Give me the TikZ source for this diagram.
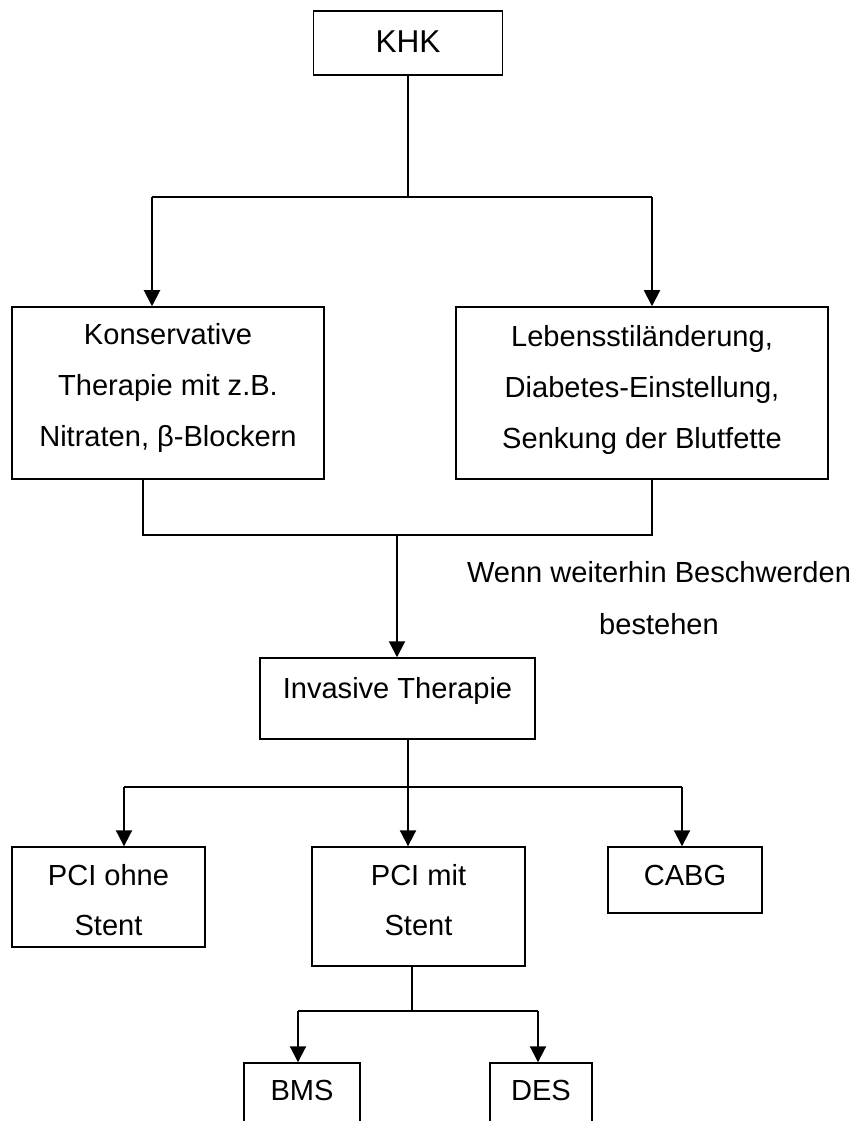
\documentclass[tikz,border=0pt]{standalone}
\usepackage{fontspec}
\setmainfont{Liberation Sans}
\usetikzlibrary{arrows.meta}
\tikzset{
  box/.style={draw=black, line width=1.1pt, rectangle, inner sep=0pt, align=center, anchor=base},
  conn/.style={draw=black, line width=1pt},
  arr/.style={draw=black, line width=1.5pt, -{Triangle[length=12pt,width=12pt]}},
  lbl/.style={align=center, anchor=base, inner sep=0pt}
}
\begin{document}
\begin{tikzpicture}[x=0.75pt, y=-0.75pt, font=\fontsize{21.8pt}{38pt}\selectfont]
\clip (0,0) rectangle (859,1121);
\fill[white] (0,0) rectangle (859,1121);
% boxes
\node[box, font=\fontsize{23.7pt}{38pt}\selectfont, minimum width=141.75pt, text height=30.75pt, text depth=17.25pt] (khk) at (408,52) {KHK};
\node[box, minimum width=234pt, text height=104.5pt, text depth=24.5pt] (kons) at (168,446.3) {Konservative\\Therapie mit z.B.\\Nitraten, β-Blockern};
\node[box, minimum width=279pt, text height=106pt, text depth=23pt] (leben) at (642,448.3) {Lebensstiländerung,\\Diabetes-Einstellung,\\Senkung der Blutfette};
\node[lbl, font=\fontsize{21.8pt}{39pt}\selectfont] (cond) at (659,634) {Wenn weiterhin Beschwerden\\bestehen};
\node[box, minimum width=206.25pt, text height=30pt, text depth=30.75pt] (inv) at (397.5,698) {Invasive Therapie};
\node[box, minimum width=144.75pt, text height=66.5pt, text depth=8.5pt] (pcio) at (108.5,935.7) {PCI ohne\\Stent};
\node[box, minimum width=159.75pt, text height=66.5pt, text depth=22.75pt] (pcim) at (418.5,935.7) {PCI mit\\Stent};
\node[box, minimum width=115.5pt, text height=28.5pt, text depth=21pt] (cabg) at (685,885) {CABG};
\node[box, minimum width=87pt, text height=27.75pt, text depth=45pt] (bms) at (302,1100) {BMS};
\node[box, minimum width=76.5pt, text height=27.75pt, text depth=45pt] (des) at (541,1100) {DES};
% junction points
\coordinate (j1) at (408,197);
\coordinate (j1l) at (152,197);
\coordinate (j1r) at (652,197);
\coordinate (j2) at (397,535);
\coordinate (j2l) at (143,535);
\coordinate (j2r) at (652,535);
\coordinate (j3) at (408,787);
\coordinate (j3l) at (124,787);
\coordinate (j3r) at (682,787);
\coordinate (j4) at (412,1011);
\coordinate (j4l) at (298,1011);
\coordinate (j4r) at (538,1011);
% connectors
\draw[conn] (j1 |- khk.south) -- (j1);
\draw[conn] (j1l) -- (j1r);
\draw[arr] (j1l) -- (j1l |- kons.north);
\draw[arr] (j1r) -- (j1r |- leben.north);
\draw[conn] (j2l |- kons.south) -- (j2l) -- (j2r) -- (j2r |- leben.south);
\draw[arr] (j2) -- (j2 |- inv.north);
\draw[conn] (j3 |- inv.south) -- (j3);
\draw[conn] (j3l) -- (j3r);
\draw[arr] (j3l) -- (j3l |- pcio.north);
\draw[arr] (j3) -- (j3 |- pcim.north);
\draw[arr] (j3r) -- (j3r |- cabg.north);
\draw[conn] (j4 |- pcim.south) -- (j4);
\draw[conn] (j4l) -- (j4r);
\draw[arr] (j4l) -- (j4l |- bms.north);
\draw[arr] (j4r) -- (j4r |- des.north);
\end{tikzpicture}
\end{document}
